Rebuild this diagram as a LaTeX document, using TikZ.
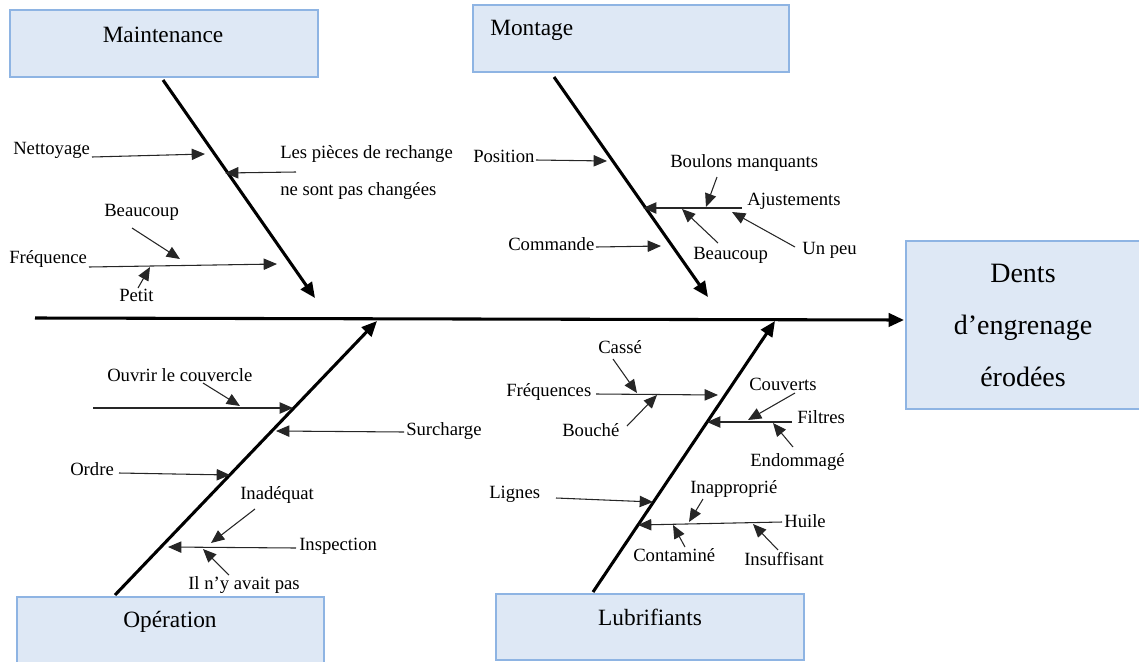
\documentclass[tikz,border=0pt]{standalone}
\usepackage{fontspec}
\setmainfont{Liberation Serif}
\usetikzlibrary{arrows.meta}
\definecolor{boxfill}{HTML}{DEE8F5}
\definecolor{boxline}{HTML}{8EB4E3}
\begin{document}
\begin{tikzpicture}[x=0.75pt,y=-0.75pt,
  box/.style={draw=boxline, fill=boxfill, line width=1.3pt, inner sep=0pt, anchor=north west},
  title/.style={font=\fontsize{17.5}{20}\selectfont, inner sep=0pt},
  lbl/.style={font=\fontsize{14}{16}\selectfont, inner sep=0pt, anchor=west},
  bone/.style={line width=2.3pt, -{Triangle[length=11.5pt,width=10pt]}},
  sub/.style={line width=0.8pt, draw=black!85, -{Triangle[length=10pt,width=8.5pt]}},
  plain/.style={line width=0.8pt, draw=black!85}]
\useasboundingbox (0,0) rectangle (1139,661);

% boxes
\node[box, minimum width=231pt, minimum height=50.25pt] (maint) at (9,9) {};
\node[title] (maintT) at (163,35) {Maintenance};
\node[box, minimum width=237pt, minimum height=50.25pt] (mont) at (472,4) {};
\node[title, anchor=west] (montT) at (490,30) {Montage};
\node[box, minimum width=230.25pt, minimum height=54pt] (oper) at (16,596) {};
\node[title] (operT) at (170,622) {Opération};
\node[box, minimum width=231pt, minimum height=49.5pt] (lubr) at (495,593) {};
\node[title] (lubrT) at (650,617) {Lubrifiants};
\node[box, minimum width=177pt, minimum height=126pt] (dents) at (905,240) {};
\node[font=\fontsize{21}{39}\selectfont, align=center, inner sep=0pt] (dentsT) at (1023,325) {Dents\\d’engrenage\\érodées};

% spine
\coordinate (spS) at (35,318);
\coordinate (spE) at (904,320);
\draw[bone] (spS) -- (spE);

% bones
\coordinate (b1s) at (163,80);  \coordinate (b1e) at (315,298);
\coordinate (b2s) at (554,77);  \coordinate (b2e) at (708,297);
\coordinate (b3s) at (115,595); \coordinate (b3e) at (377,321);
\coordinate (b4s) at (593,592); \coordinate (b4e) at (775,321);
\draw[bone] (b1s) -- (b1e);
\draw[bone] (b2s) -- (b2e);
\draw[bone] (b3s) -- (b3e);
\draw[bone] (b4s) -- (b4e);

% Maintenance
\node[lbl] (nett) at (13,150) {Nettoyage};
\coordinate (nettA) at (92,157); \coordinate (nettB) at (205,154);
\draw[sub] (nettA) -- (nettB);
\node[lbl] (pieces) at (280,154) {Les pièces de rechange};
\node[lbl] (pieces2) at (280,191) {ne sont pas changées};
\coordinate (piecA) at (296,172); \coordinate (piecB) at (225,173);
\draw[sub] (piecA) -- (piecB);
\node[lbl] (beau1) at (104,212) {Beaucoup};
\coordinate (beau1A) at (132,228); \coordinate (beau1B) at (180,259);
\draw[sub] (beau1A) -- (beau1B);
\node[lbl] (freq) at (9,259) {Fréquence};
\coordinate (freqA) at (89,267); \coordinate (freqB) at (277,264);
\draw[sub] (freqA) -- (freqB);
\node[lbl] (petit) at (119,295) {Petit};
\coordinate (petitA) at (138,288); \coordinate (petitB) at (150,267);
\draw[sub] (petitA) -- (petitB);

% Montage
\node[lbl] (pos) at (473,156) {Position};
\coordinate (posA) at (536,160); \coordinate (posB) at (607,161);
\draw[sub] (posA) -- (posB);
\node[lbl] (boul) at (670,163) {Boulons manquants};
\coordinate (boulA) at (717,177); \coordinate (boulB) at (706,207);
\draw[sub] (boulA) -- (boulB);
\node[lbl] (ajust) at (747,201) {Ajustements};
\coordinate (ajA) at (742,208); \coordinate (ajB) at (643,208);
\draw[sub] (ajA) -- (ajB);
\node[lbl] (beau2) at (693,255) {Beaucoup};
\coordinate (beau2A) at (718,243); \coordinate (beau2B) at (682,209);
\draw[sub] (beau2A) -- (beau2B);
\node[lbl] (unpeu) at (802,250) {Un peu};
\coordinate (unpeuA) at (795,247); \coordinate (unpeuB) at (732,212);
\draw[sub] (unpeuA) -- (unpeuB);
\node[lbl] (cmd) at (508,244) {Commande};
\coordinate (cmdA) at (596,247); \coordinate (cmdB) at (661,246);
\draw[sub] (cmdA) -- (cmdB);

% Operation
\node[lbl] (ouvr) at (107,375) {Ouvrir le couvercle};
\coordinate (ouvrA) at (203,383); \coordinate (ouvrB) at (240,406);
\draw[sub] (ouvrA) -- (ouvrB);
\coordinate (ouvrL) at (93,408); \coordinate (ouvrR) at (293,408);
\draw[sub] (ouvrL) -- (ouvrR);
\node[lbl] (surch) at (406,431) {Surcharge};
\coordinate (surchA) at (404,432); \coordinate (surchB) at (276,431);
\draw[sub] (surchA) -- (surchB);
\node[lbl] (ordre) at (70,469) {Ordre};
\coordinate (ordreA) at (119,473); \coordinate (ordreB) at (230,475);
\draw[sub] (ordreA) -- (ordreB);
\node[lbl] (inad) at (240,495) {Inadéquat};
\coordinate (inadA) at (255,509); \coordinate (inadB) at (211,543);
\draw[sub] (inadA) -- (inadB);
\node[lbl] (insp) at (299,546) {Inspection};
\coordinate (inspA) at (296,548); \coordinate (inspB) at (168,547);
\draw[sub] (inspA) -- (inspB);
\node[lbl] (ilny) at (188,585) {Il n’y avait pas};
\coordinate (ilnyA) at (229,575); \coordinate (ilnyB) at (203,549);
\draw[sub] (ilnyA) -- (ilnyB);

% Lubrifiants
\node[lbl] (casse) at (598,347) {Cassé};
\coordinate (casseA) at (613,359); \coordinate (casseB) at (637,393);
\draw[sub] (casseA) -- (casseB);
\node[lbl] (freqs) at (506,392) {Fréquences};
\coordinate (freqsA) at (596,394); \coordinate (freqsB) at (718,395);
\draw[sub] (freqsA) -- (freqsB);
\node[lbl] (bouche) at (562,430) {Bouché};
\coordinate (boucheA) at (627,426); \coordinate (boucheB) at (657,395);
\draw[sub] (boucheA) -- (boucheB);
\node[lbl] (couv) at (749,384) {Couverts};
\coordinate (couvA) at (795,393); \coordinate (couvB) at (748,420);
\draw[sub] (couvA) -- (couvB);
\node[lbl] (filtres) at (797,417) {Filtres};
\coordinate (filtA) at (792,422); \coordinate (filtB) at (707,422);
\draw[sub] (filtA) -- (filtB);
\node[lbl] (endo) at (750,462) {Endommagé};
\coordinate (endoA) at (793,447); \coordinate (endoB) at (773,423);
\draw[sub] (endoA) -- (endoB);
\node[lbl] (lignes) at (489,494) {Lignes};
\coordinate (lignesA) at (556,498); \coordinate (lignesB) at (653,502);
\draw[sub] (lignesA) -- (lignesB);
\node[lbl] (inapp) at (690,489) {Inapproprié};
\coordinate (inappA) at (703,499); \coordinate (inappB) at (689,522);
\draw[sub] (inappA) -- (inappB);
\node[lbl] (huile) at (784,521) {Huile};
\coordinate (huileA) at (782,522); \coordinate (huileB) at (638,525);
\draw[sub] (huileA) -- (huileB);
\node[lbl] (contam) at (633,555) {Contaminé};
\coordinate (contamA) at (685,547); \coordinate (contamB) at (673,525);
\draw[sub] (contamA) -- (contamB);
\node[lbl] (insuf) at (744,559) {Insuffisant};
\coordinate (insufA) at (778,550); \coordinate (insufB) at (753,524);
\draw[sub] (insufA) -- (insufB);
\end{tikzpicture}
\end{document}
